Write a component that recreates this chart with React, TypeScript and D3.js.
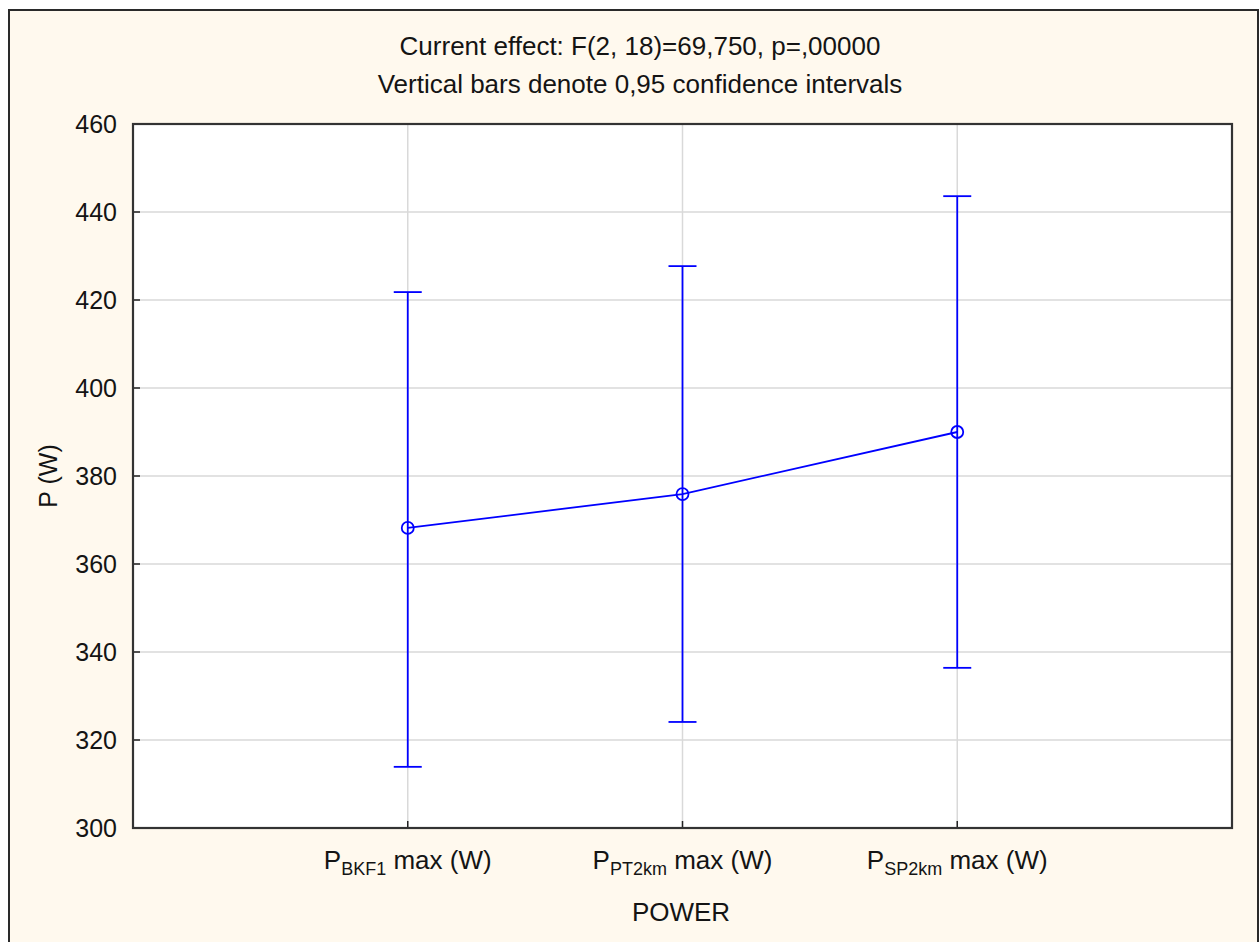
import React from "react";
import * as d3 from "d3";

const categories = ["BKF1", "PT2km", "SP2km"];
const means = [368.2, 375.9, 390.0];
const upper = [421.8, 427.7, 443.6];
const lower = [313.9, 324.1, 336.4];
const yTicks = [300, 320, 340, 360, 380, 400, 420, 440, 460];
const titleLines = [
  "Current effect: F(2, 18)=69,750, p=,00000",
  "Vertical bars denote 0,95 confidence intervals",
];

const W = 1260;
const H = 942;
const plot = { left: 133, top: 124, right: 1232, bottom: 828 };
const FONT = "'Liberation Sans', Arial, sans-serif";
const FS = 25;
const TEXT = "#141414";
const BLUE = "#0000ff";

export default function App() {
  const x = d3.scaleLinear().domain([0, 4]).range([plot.left, plot.right]);
  const y = d3.scaleLinear().domain([300, 460]).range([plot.bottom, plot.top]);
  const line = d3
    .line<number>()
    .x((_, i) => x(i + 1))
    .y((d) => y(d));
  const cap = 14;
  return (
    <svg
      width={W}
      height={H}
      style={{ position: "absolute", left: 0, top: 0, display: "block" }}
      fontFamily={FONT}
    >
      <rect x={0} y={0} width={W} height={H} fill="#ffffff" />
      <rect x={9} y={10} width={1249} height={H + 10} fill="#fff9ee" stroke="#2a2a2a" strokeWidth={2} />
      {titleLines.map((t, i) => (
        <text key={i} x={640} y={55 + i * 38} textAnchor="middle" fontSize={26} fill={TEXT}>
          {t}
        </text>
      ))}
      <rect
        x={plot.left}
        y={plot.top}
        width={plot.right - plot.left}
        height={plot.bottom - plot.top}
        fill="#ffffff"
      />
      {yTicks.map((t) => (
        <g key={t}>
          {t !== 300 && t !== 460 && (
            <line x1={plot.left} x2={plot.right} y1={y(t)} y2={y(t)} stroke="#d9d9d9" strokeWidth={1.5} />
          )}
          <line x1={plot.left} x2={plot.left + 7} y1={y(t)} y2={y(t)} stroke="#222" strokeWidth={1.5} />
          <text x={117} y={y(t)} dy="0.36em" textAnchor="end" fontSize={FS} fill={TEXT}>
            {t}
          </text>
        </g>
      ))}
      {categories.map((c, i) => (
        <g key={c}>
          <line x1={x(i + 1)} x2={x(i + 1)} y1={plot.top} y2={plot.bottom} stroke="#d9d9d9" strokeWidth={1.5} />
          <line x1={x(i + 1)} x2={x(i + 1)} y1={plot.bottom} y2={plot.bottom - 7} stroke="#222" strokeWidth={1.5} />
          <text x={x(i + 1)} y={869} textAnchor="middle" fontSize={26} fill={TEXT}>
            P
            <tspan fontSize={18} dy={6}>{c}</tspan>
            <tspan dy={-6}> max (W)</tspan>
          </text>
        </g>
      ))}
      <rect
        x={plot.left}
        y={plot.top}
        width={plot.right - plot.left}
        height={plot.bottom - plot.top}
        fill="none"
        stroke="#333"
        strokeWidth={2.2}
      />
      {categories.map((c, i) => (
        <g key={"e" + c} stroke={BLUE} strokeWidth={1.8}>
          <line x1={x(i + 1)} x2={x(i + 1)} y1={y(lower[i])} y2={y(upper[i])} />
          <line x1={x(i + 1) - cap} x2={x(i + 1) + cap} y1={y(upper[i])} y2={y(upper[i])} />
          <line x1={x(i + 1) - cap} x2={x(i + 1) + cap} y1={y(lower[i])} y2={y(lower[i])} />
        </g>
      ))}
      <path d={line(means) || ""} fill="none" stroke={BLUE} strokeWidth={1.8} />
      {means.map((m, i) => (
        <circle key={i} cx={x(i + 1)} cy={y(m)} r={6} fill="none" stroke={BLUE} strokeWidth={1.8} />
      ))}
      <text x={681} y={921} textAnchor="middle" fontSize={26} fill={TEXT}>
        POWER
      </text>
      <text
        transform={`translate(57,${(plot.top + plot.bottom) / 2}) rotate(-90)`}
        textAnchor="middle"
        fontSize={FS}
        fill={TEXT}
      >
        P (W)
      </text>
    </svg>
  );
}
